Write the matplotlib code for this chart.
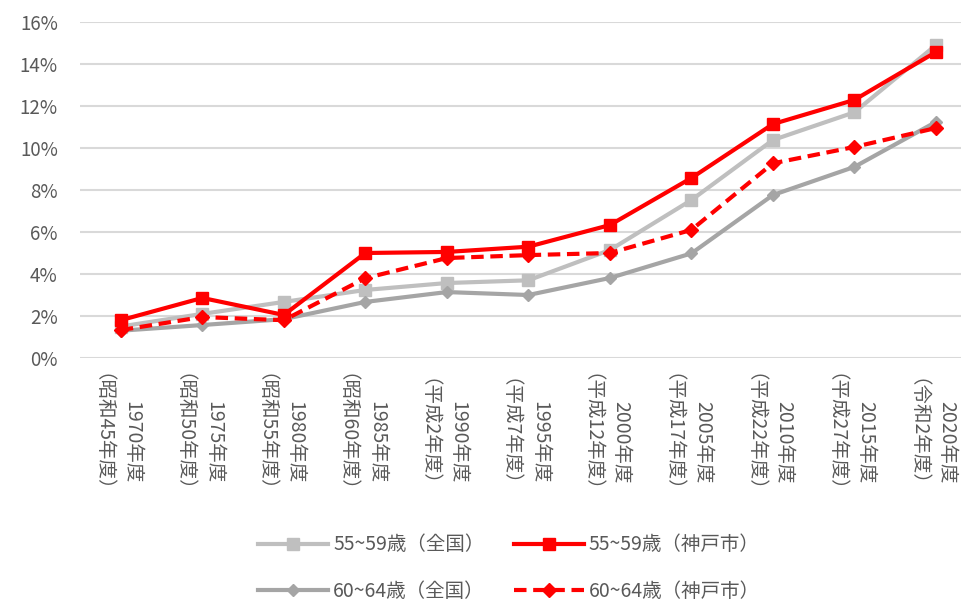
import matplotlib.pyplot as plt
import matplotlib.transforms as mtransforms

plt.rcParams['font.family'] = ['Noto Sans CJK JP', 'DejaVu Sans']

# 年度ラベル
years = ["1970年度", "1975年度", "1980年度", "1985年度", "1990年度", "1995年度",
         "2000年度", "2005年度", "2010年度", "2015年度", "2020年度"]
eras = ["（昭和45年度）", "（昭和50年度）", "（昭和55年度）", "（昭和60年度）", "（平成2年度）",
        "（平成7年度）", "（平成12年度）", "（平成17年度）", "（平成22年度）", "（平成27年度）",
        "（令和2年度）"]

# 値（%）
zenkoku_55 = [1.5, 2.1, 2.67, 3.24, 3.57, 3.7, 5.14, 7.52, 10.38, 11.7, 14.9]
kobe_55 = [1.8, 2.86, 2.05, 5.0, 5.05, 5.3, 6.33, 8.57, 11.14, 12.29, 14.57]
zenkoku_60 = [1.3, 1.57, 1.85, 2.67, 3.14, 3.0, 3.81, 4.98, 7.76, 9.1, 11.24]
kobe_60 = [1.33, 1.95, 1.8, 3.8, 4.76, 4.9, 5.0, 6.1, 9.27, 10.05, 10.95]

fig = plt.figure(figsize=(9.62, 6.04), dpi=100)
ax = fig.add_axes([80 / 962, 1 - 358 / 604, 1 - 80 / 962, (358 - 22) / 604])

x = list(range(len(years)))
l1, = ax.plot(x, zenkoku_55, color='#BFBFBF', lw=3, marker='s', ms=8, zorder=3,
              label='55~59歳（全国）')
l3, = ax.plot(x, zenkoku_60, color='#A5A5A5', lw=3, marker='D', ms=6, zorder=4,
              label='60~64歳（全国）')
l4, = ax.plot(x, kobe_60, color='#FF0000', lw=3, ls=(0, (3, 1.6)), marker='D', ms=7,
              zorder=5, label='60~64歳（神戸市）')
l2, = ax.plot(x, kobe_55, color='#FF0000', lw=3, marker='s', ms=9, zorder=6,
              label='55~59歳（神戸市）')

ax.set_ylim(0, 16)
ax.set_xlim(-0.5, 10.32)
ax.set_yticks(range(0, 17, 2))
ax.set_yticklabels([f"{v}%" for v in range(0, 17, 2)], fontsize=13.5, color='#595959')
ax.set_xticks(x)
ax.set_xticklabels([])
ax.tick_params(axis='x', length=0)
ax.tick_params(axis='y', length=0, pad=16)
ax.grid(axis='y', color='#D9D9D9', lw=1.5, zorder=0)
for s in ax.spines.values():
    s.set_visible(False)

# 縦書き風の2行ラベル（年度は右、和暦は左）
base = ax.get_xaxis_transform()
for i in x:
    for txt, dx in ((years[i], 11), (eras[i], -29)):
        off = mtransforms.ScaledTranslation(dx / 100, -84 / 100, fig.dpi_scale_trans)
        ax.text(i, 0, txt, transform=base + off, rotation=-90, ha='center', va='center',
                fontsize=14, color='#595959', clip_on=False)

fig.legend(handles=[l1, l3, l2, l4], ncol=2, loc='center', bbox_to_anchor=(509 / 962, 1 - 568 / 604),
           frameon=False, fontsize=14, handlelength=3.6, columnspacing=1.5,
           handletextpad=0.25, labelspacing=1.3, labelcolor='#595959')

fig.savefig('out.png', dpi=100)
